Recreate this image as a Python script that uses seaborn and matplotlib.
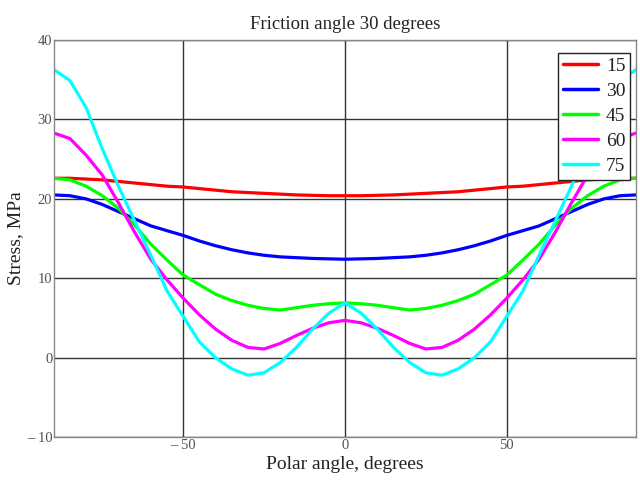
import numpy as np
import pandas as pd
import matplotlib
matplotlib.use("Agg")
import matplotlib.pyplot as plt
import seaborn as sns

# data (stress in MPa vs polar angle in degrees)
angles = [-90, -85, -80, -75, -70, -65, -60, -55, -50, -45, -40, -35, -30, -25, -20, -15, -10, -5,
          0, 5, 10, 15, 20, 25, 30, 35, 40, 45, 50, 55, 60, 65, 70, 75, 80, 85, 90]

s15 = [22.6, 22.6, 22.5, 22.4, 22.2, 22.0, 21.8, 21.6, 21.5, 21.3, 21.1, 20.9, 20.8, 20.7, 20.6, 20.5, 20.45, 20.4,
       20.4, 20.4, 20.45, 20.5, 20.6, 20.7, 20.8, 20.9, 21.1, 21.3, 21.5, 21.6, 21.8, 22.0, 22.2, 22.4, 22.5, 22.6, 22.6]
s30 = [20.5, 20.4, 20.0, 19.3, 18.4, 17.5, 16.6, 16.0, 15.4, 14.7, 14.1, 13.6, 13.2, 12.9, 12.7, 12.6, 12.5, 12.45,
       12.4, 12.45, 12.5, 12.6, 12.7, 12.9, 13.2, 13.6, 14.1, 14.7, 15.4, 16.0, 16.6, 17.5, 18.4, 19.3, 20.0, 20.4, 20.5]
s45 = [22.6, 22.4, 21.6, 20.4, 18.8, 16.7, 14.3, 12.3, 10.4, 9.2, 8.0, 7.2, 6.6, 6.2, 6.0, 6.3, 6.6, 6.8,
       6.9, 6.8, 6.6, 6.3, 6.0, 6.2, 6.6, 7.2, 8.0, 9.2, 10.4, 12.3, 14.3, 16.7, 18.8, 20.4, 21.6, 22.4, 22.6]
s60 = [28.3, 27.6, 25.5, 23.0, 19.5, 15.8, 12.4, 9.8, 7.5, 5.4, 3.6, 2.2, 1.3, 1.1, 1.8, 2.8, 3.7, 4.4,
       4.7, 4.4, 3.7, 2.8, 1.8, 1.1, 1.3, 2.2, 3.6, 5.4, 7.5, 9.8, 12.4, 15.8, 19.5, 23.0, 25.5, 27.6, 28.3]
s75 = [36.3, 34.9, 31.5, 26.3, 21.6, 17.2, 12.9, 8.4, 5.2, 2.0, 0.0, -1.4, -2.2, -1.9, -0.6, 1.3, 3.6, 5.6,
       6.9, 5.6, 3.6, 1.3, -0.6, -1.9, -2.2, -1.4, 0.0, 2.0, 5.2, 8.4, 12.9, 17.2, 21.6, 26.3, 31.5, 34.9, 36.3]

series_names = ["15", "30", "45", "60", "75"]
series_colors = ["#ff0000", "#0000ff", "#00ff00", "#ff00ff", "#00ffff"]

xticks = [-50, 0, 50]
xtick_labels = ["\u2013 50", "0", "50"]
yticks = [-10, 0, 10, 20, 30, 40]
ytick_labels = ["\u2013 10", "0", "10", "20", "30", "40"]

df = pd.DataFrame({
    "angle": angles * 5,
    "stress": s15 + s30 + s45 + s60 + s75,
    "phi": sum([[n] * len(angles) for n in series_names], []),
})

sns.set_style("white")
plt.rcParams["font.family"] = ["Liberation Serif", "DejaVu Serif"]

fig = plt.figure(figsize=(6.4, 4.83), dpi=100)
ax = fig.add_axes([0.084, 0.095, 0.91, 0.822])

sns.lineplot(data=df, x="angle", y="stress", hue="phi", hue_order=series_names,
             palette=series_colors, linewidth=2.3, ax=ax, legend=True)
for ln in ax.get_lines():
    ln.set_solid_joinstyle("round")

ax.set_xlim(-90, 90)
ax.set_ylim(-10, 40)
ax.set_xticks(xticks)
ax.set_xticklabels(xtick_labels)
ax.set_yticks(yticks)
ax.set_yticklabels(ytick_labels)
ax.tick_params(axis="both", length=0, labelsize=10.5, colors="#5a5048", pad=1)
ax.grid(True, color="#333333", linewidth=1.0)
ax.set_axisbelow(True)
for sp in ax.spines.values():
    sp.set_color("#888888")
    sp.set_linewidth(1.0)

ax.set_title("Friction angle 30 degrees", fontsize=13.5, pad=8, color="#222222")
ax.set_xlabel("Polar angle, degrees", fontsize=14, labelpad=3, color="#222222")
ax.set_ylabel("Stress, MPa", fontsize=14, labelpad=2, color="#222222")

leg = ax.legend(loc="upper right", bbox_to_anchor=(0.99, 0.968), fontsize=14,
                frameon=True, fancybox=False, handlelength=1.8, handletextpad=0.4,
                borderpad=0.25, labelspacing=0.38, borderaxespad=0.0)
leg.get_frame().set_edgecolor("#222222")
leg.get_frame().set_linewidth(1.0)
leg.get_frame().set_alpha(1.0)
for line in leg.get_lines():
    line.set_linewidth(2.5)
for t in leg.get_texts():
    t.set_color("#222222")

fig.savefig("out.png", dpi=100)
